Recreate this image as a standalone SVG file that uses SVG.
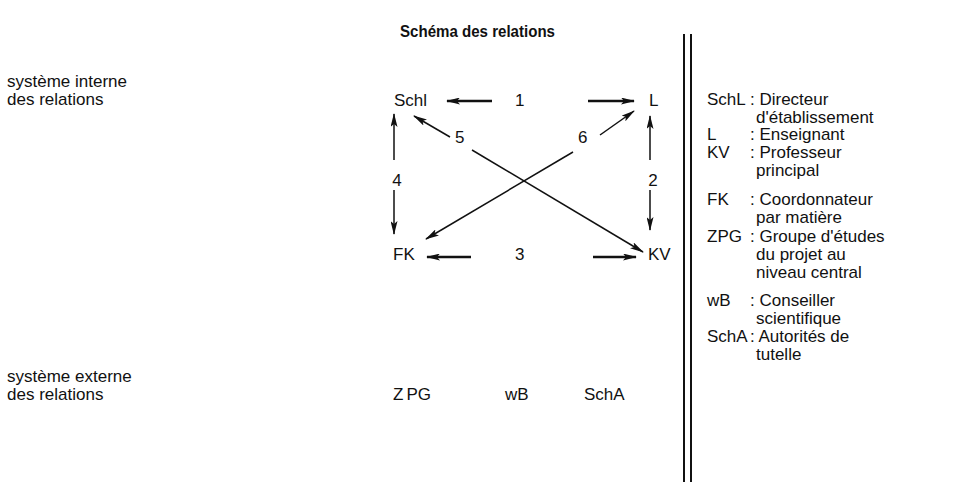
<svg xmlns="http://www.w3.org/2000/svg" width="960" height="482" viewBox="0 0 960 482">
<defs>
<style>
text{font-family:"Liberation Sans",Arial,sans-serif;font-size:17px;fill:#111}
.t{font-weight:bold;font-size:17px}
.c line{stroke:#111;stroke-width:1.5;fill:none}
.c .h{stroke-width:2.4}
</style>
<marker id="ah" viewBox="0 0 14 7" refX="13" refY="3.5" markerWidth="14" markerHeight="7" markerUnits="userSpaceOnUse" orient="auto">
<path d="M0,0 L14,3.5 L0,7 L3,3.5 Z" fill="#111"/>
</marker>
</defs>
<rect width="960" height="482" fill="#fff"/>
<text class="t" x="400" y="37" textLength="155" lengthAdjust="spacingAndGlyphs">Schéma des relations</text>
<g id="sidebar">
<line x1="684" y1="34" x2="684" y2="482" stroke="#111" stroke-width="2"/>
<line x1="691" y1="34" x2="691" y2="482" stroke="#111" stroke-width="2"/>
</g>
<g id="labels-left">
<text x="7" y="87">système interne</text>
<text x="7" y="105">des relations</text>
<text x="7" y="382">système externe</text>
<text x="7" y="400">des relations</text>
</g>
<g id="node-Schl"><text x="394" y="106">Schl</text></g>
<g id="node-L"><text x="649" y="106">L</text></g>
<g id="node-FK"><text x="393" y="260">FK</text></g>
<g id="node-KV"><text x="648" y="260">KV</text></g>
<g id="node-ZPG"><text x="393" y="400">Z<tspan dx="3">PG</tspan></text></g>
<g id="node-wB"><text x="505" y="400">wB</text></g>
<g id="node-SchA"><text x="584" y="400">SchA</text></g>
<g class="c" id="connectors">
<line class="h" x1="492" y1="101" x2="447" y2="101" marker-end="url(#ah)"/>
<line class="h" x1="588" y1="101" x2="634" y2="101" marker-end="url(#ah)"/>
<line class="h" x1="471" y1="257" x2="427" y2="257" marker-end="url(#ah)"/>
<line class="h" x1="593" y1="257" x2="636" y2="257" marker-end="url(#ah)"/>
<line x1="394" y1="160" x2="394" y2="114" marker-end="url(#ah)"/>
<line x1="394" y1="190" x2="394" y2="234" marker-end="url(#ah)"/>
<line x1="650" y1="160" x2="650" y2="116" marker-end="url(#ah)"/>
<line x1="650" y1="190" x2="650" y2="230" marker-end="url(#ah)"/>
<line x1="450" y1="137" x2="414" y2="116" marker-end="url(#ah)"/>
<line x1="600" y1="135" x2="634" y2="111" marker-end="url(#ah)"/>
<line x1="472" y1="150" x2="643" y2="252" marker-end="url(#ah)"/>
<line x1="573" y1="152" x2="426" y2="239" marker-end="url(#ah)"/>
</g>
<g id="connector-labels">
<text x="515" y="106">1</text>
<text x="653" y="186" text-anchor="middle">2</text>
<text x="515" y="260">3</text>
<text x="397" y="186" text-anchor="middle">4</text>
<text x="455" y="143">5</text>
<text x="578" y="143">6</text>
</g>
<g id="legend">
<text x="707" y="105">SchL</text><text x="750" y="105">: Directeur</text>
<text x="756" y="123">d'établissement</text>
<text x="707" y="140">L</text><text x="750" y="140">: Enseignant</text>
<text x="707" y="158">KV</text><text x="750" y="158">: Professeur</text>
<text x="756" y="176">principal</text>
<text x="707" y="205">FK</text><text x="750" y="205">: Coordonnateur</text>
<text x="756" y="223">par matière</text>
<text x="707" y="242">ZPG</text><text x="750" y="242">: Groupe d'études</text>
<text x="756" y="260">du projet au</text>
<text x="756" y="278">niveau central</text>
<text x="707" y="306">wB</text><text x="750" y="306">: Conseiller</text>
<text x="756" y="324">scientifique</text>
<text x="707" y="342">SchA</text><text x="750" y="342">: Autorités de</text>
<text x="756" y="360">tutelle</text>
</g>
</svg>
